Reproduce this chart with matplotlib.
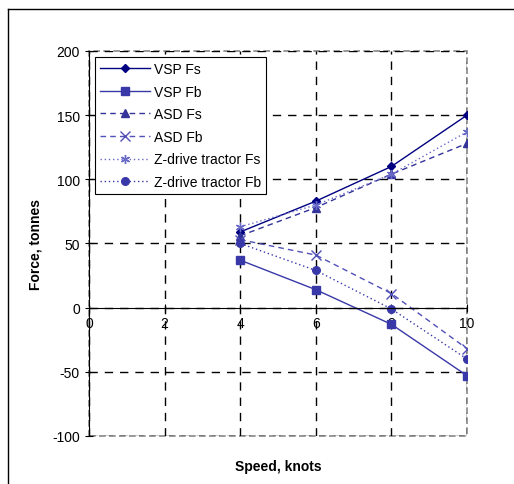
import matplotlib
matplotlib.use("Agg")
import matplotlib.pyplot as plt
from matplotlib.lines import Line2D
from matplotlib.patches import Rectangle

plt.rcParams['font.family'] = ['Liberation Sans', 'DejaVu Sans']
plt.rcParams['font.size'] = 10
plt.rcParams['axes.unicode_minus'] = False

# data
speed = [4, 6, 8, 10]
vsp_fs = [59, 83, 110, 150]
vsp_fb = [37, 14, -13, -53]
asd_fs = [56, 78, 104, 128]
asd_fb = [53, 41, 11, -32]
zdrive_fs = [63, 80, 104, 137]
zdrive_fb = [50, 29, -1, -40]

fig = plt.figure(figsize=(5.14, 4.85), dpi=100)
ax = fig.add_axes([0.1732, 0.0990, 0.7354, 0.7938])

ax.plot(speed, vsp_fs, color='#000080', ls='-', lw=1, marker='D', ms=4.5, label='VSP Fs')
ax.plot(speed, vsp_fb, color='#3838a8', ls='-', lw=1, marker='s', ms=5.5, label='VSP Fb')
ax.plot(speed, asd_fs, color='#333399', ls=(0, (4, 3)), lw=1, marker='^', ms=6, label='ASD Fs')
ax.plot(speed, asd_fb, color='#5050b8', ls=(0, (4, 3)), lw=1, marker='x', ms=6.5, label='ASD Fb')
ax.plot(speed, zdrive_fs, color='#6a6ac8', ls=(0, (1, 2)), lw=1, marker=(6, 2, 0), ms=6.5, label='Z-drive tractor Fs')
ax.plot(speed, zdrive_fb, color='#3838a8', ls=(0, (1, 2)), lw=1, marker='o', ms=5.5, label='Z-drive tractor Fb')

ax.set_xlim(0, 10)
ax.set_ylim(-100, 200)
ax.set_xticks([0, 2, 4, 6, 8, 10])
ax.set_yticks([-100, -50, 0, 50, 100, 150, 200])

ax.grid(True, color='black', ls=(0, (6, 5)), lw=1)
ax.set_axisbelow(True)

# plot area border: grey dashed
for s in ['top', 'right']:
    ax.spines[s].set_visible(False)
ax.add_patch(Rectangle((0, 0), 1, 1, transform=ax.transAxes, fill=False,
                       edgecolor='#888888', ls=(0, (4, 2)), lw=1.2, clip_on=False, zorder=0))
ax.spines['bottom'].set_position(('data', 0))
ax.spines['bottom'].set_color('black')
ax.spines['left'].set_color('black')
ax.tick_params(axis='both', direction='inout', length=6, width=0.8, colors='black')
ax.tick_params(axis='x', pad=3)

ax.set_ylabel('Force, tonnes', fontweight='bold', labelpad=7)
ax.set_xlabel('Speed, knots', fontweight='bold', labelpad=0)
ax.xaxis.set_label_coords(0.5, -0.06)

leg = ax.legend(loc='upper left', bbox_to_anchor=(0.016, 0.984), frameon=True,
                fancybox=False, edgecolor='black', framealpha=1, handlelength=3.6,
                labelspacing=0.62, borderpad=0.35, borderaxespad=0, handletextpad=0.3)
leg.get_frame().set_linewidth(0.8)

# outer chart border (cropped at right and bottom)
fig.add_artist(Line2D([8 / 514, 8 / 514], [1 - 10 / 485, 0], transform=fig.transFigure,
                      color='black', lw=1))
fig.add_artist(Line2D([8 / 514, 1], [1 - 10 / 485, 1 - 10 / 485], transform=fig.transFigure,
                      color='black', lw=1))

fig.savefig('out.png', dpi=100)
